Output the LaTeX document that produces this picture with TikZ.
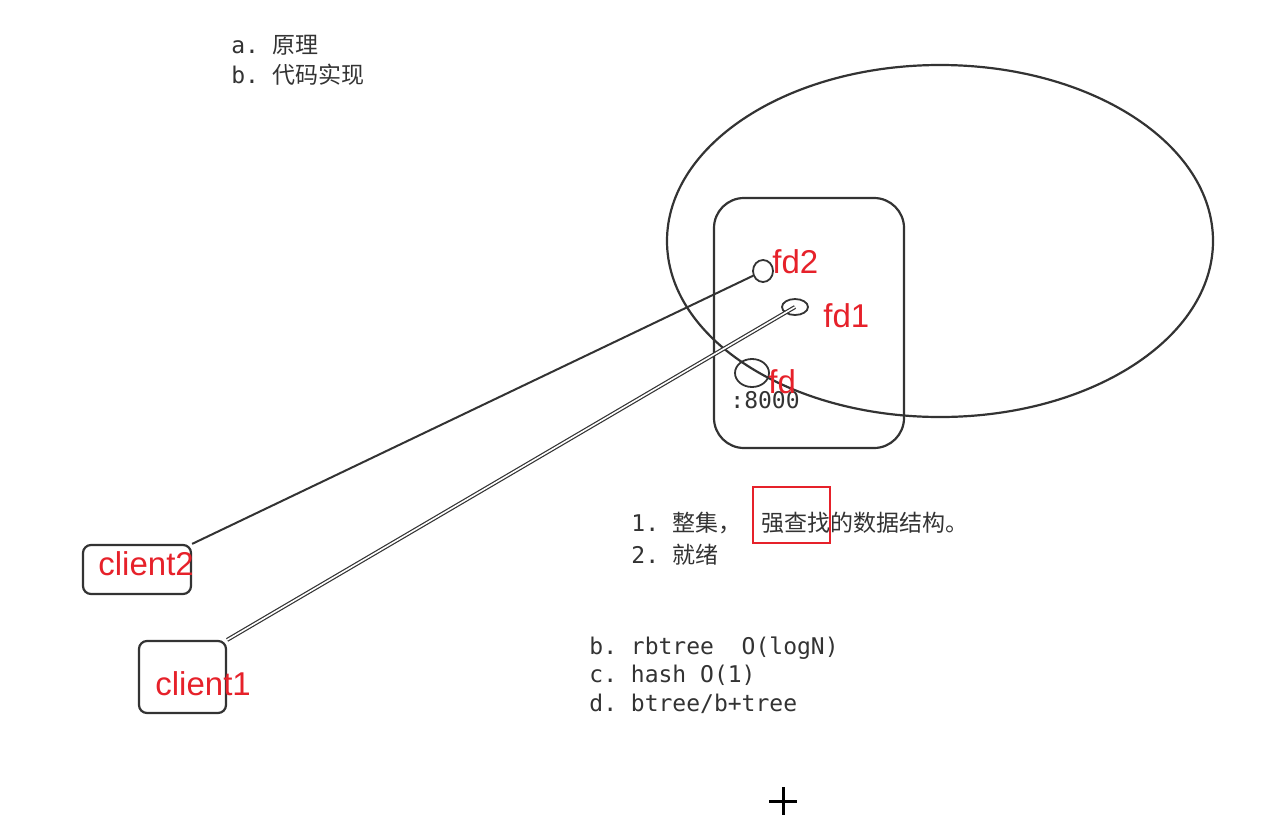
\documentclass[tikz,border=0pt]{standalone}
\usepackage{fontspec}
\setmainfont{Liberation Sans}
\setmonofont{DejaVu Sans Mono}
\newfontfamily\cjk{Noto Sans CJK SC}
\usetikzlibrary{shapes.geometric}
\definecolor{ink}{HTML}{333333}
\definecolor{redpen}{HTML}{E6212A}
\tikzstyle{sketch} = [draw=ink, line width=1.1pt]
\tikzstyle{box} = [sketch, rectangle, rounded corners=4pt, inner sep=0]
\tikzstyle{hole} = [sketch, ellipse, inner sep=0, line width=0.9pt]
\tikzstyle{memo} = [anchor=base west, inner sep=0, text=ink,
                    font=\fontsize{11.5}{14}\ttfamily]
\tikzstyle{redlabel} = [anchor=base west, inner sep=0, text=redpen,
                        font=\fontsize{16.5}{20}\selectfont]
\newcommand{\memo}[3]{\node [memo] (#1) at #2 {#3};}
\newcommand{\redlabel}[3]{\node [redlabel] (#1) at #2 {#3};}

\begin{document}
\begin{tikzpicture}[x=0.5pt, y=-0.5pt]
  \useasboundingbox (0,0) rectangle (1283,830);
  % server side
  \node [sketch, ellipse, inner sep=0, minimum width=273pt,
         minimum height=176pt] (pool) at (940,241) {};
  \node [box, rounded corners=15pt, minimum width=95pt,
         minimum height=125pt] (server) at (809,323) {};
  \node [hole, minimum width=10pt, minimum height=11pt] (fd2) at (763,271) {};
  \node [hole, minimum width=13pt, minimum height=8pt] (fd1) at (795,307) {};
  \node [hole, minimum width=17pt, minimum height=14pt] (fd) at (752,373) {};
  \memo {port} {(730,408)} {:8000}
  % clients
  \node [box, minimum width=54pt, minimum height=24.5pt] (client2) at (137,569.5) {};
  \node [box, minimum width=43.5pt, minimum height=36pt] (client1) at (182.5,677) {};
  \draw [sketch, line width=1pt] (client2.north east) -- (fd2);
  \draw [sketch, line width=0.6pt, double=white, double distance=0.8pt]
    (client1.north east) -- (fd1.center);
  % red notes
  \redlabel {fd2tag} {(772,273)} {fd2}
  \redlabel {fd1tag} {(823,327)} {fd1}
  \redlabel {fdtag} {(768,393)} {fd}
  \redlabel {client2tag} {(98,575)} {client2}
  \redlabel {client1tag} {(155,695)} {client1}
  % text
  \memo {itemA} {(231,53)} {a. {\cjk 原理}}
  \memo {itemB} {(231,83)} {b. {\cjk 代码实现}}
  \memo {step1} {(631,531)} {1. {\cjk 整集，}\hspace{10pt}{\cjk 强查找的数据结构。}}
  \memo {step2} {(631,563)} {2. {\cjk 就绪}}
  \memo {rbtree} {(589,654)} {b. rbtree\ \ O(logN)}
  \memo {hash} {(589,682)} {c. hash O(1)}
  \memo {btree} {(589,711)} {d. btree/b+tree}
  \node [draw=redpen, line width=1pt, inner sep=0, minimum width=38.5pt,
         minimum height=28pt] (hilite) at (791.5,515) {};
  \draw [line width=1.5pt] (769,801) -- (797,801) (783,787) -- (783,815);
\end{tikzpicture}
\end{document}
